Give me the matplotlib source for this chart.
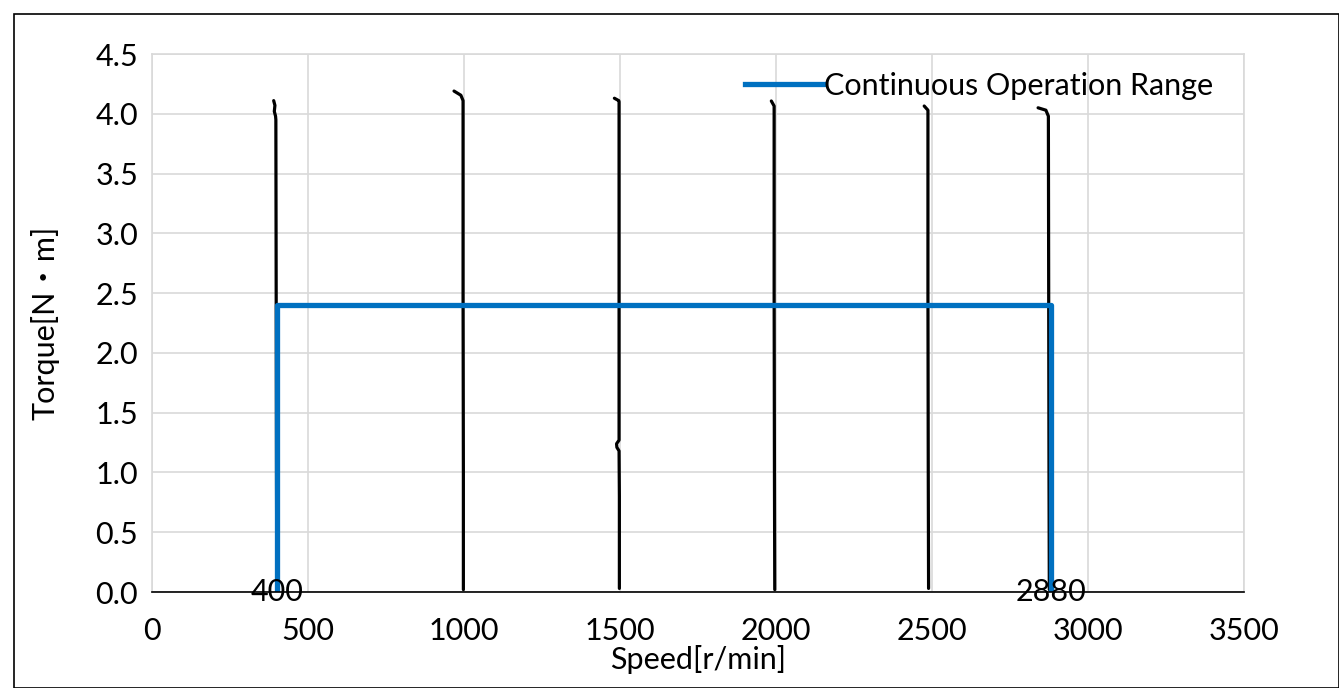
import numpy as np
import matplotlib
matplotlib.use('Agg')
import matplotlib.pyplot as plt
import matplotlib.patches as patches

plt.rcParams['font.family'] = ['Lato', 'Noto Sans CJK JP', 'DejaVu Sans']

# measured torque curves (speed r/min, torque N*m)
Speed400 = [400, 399, 398, 397, 396, 392, 394, 390]
Torque400 = [0.02, 1.0, 2.5, 3.95, 3.98, 4.02, 4.07, 4.11]

Speed1000 = [998, 998, 997, 997, 990, 968]
Torque1000 = [0.02, 1.0, 2.5, 4.11, 4.155, 4.19]

Speed1500 = [1498, 1498, 1497, 1490, 1489, 1497, 1497, 1496, 1482]
Torque1500 = [0.03, 0.8, 1.18, 1.21, 1.24, 1.27, 4.1, 4.11, 4.13]

Speed2000 = [1996, 1995, 1994, 1994, 1985]
Torque2000 = [0.02, 1.0, 2.5, 4.065, 4.107]

Speed2500 = [2489, 2488, 2487, 2487, 2475]
Torque2500 = [0.03, 1.0, 2.5, 4.03, 4.065]

Speed2880 = [2876, 2875, 2874, 2873, 2865, 2840]
Torque2880 = [0.02, 1.0, 2.5, 3.98, 4.03, 4.05]

# continuous operation range
RangeSpeed = [400, 400, 2880, 2880]
RangeTorque = [0, 2.4, 2.4, 0]

Curves = [(Speed400, Torque400), (Speed1000, Torque1000), (Speed1500, Torque1500),
          (Speed2000, Torque2000), (Speed2500, Torque2500), (Speed2880, Torque2880)]

FS = 22

fig = plt.figure(figsize=(13.39, 6.88), dpi=100)
ax = fig.add_axes([152/1339, 1-592/688, (1244-152)/1339, (592-54)/688])

for sp, tq in Curves:
    ax.plot(sp, tq, color='black', linewidth=2.3, solid_capstyle='round', zorder=2)

ax.plot(RangeSpeed, RangeTorque, color='#0070C0', linewidth=3.8, label='Continuous Operation Range', zorder=3)

for xv in [400, 2880]:
    ax.text(xv, 0, str(xv), ha='center', va='center', fontsize=FS, zorder=4)

ax.set_xlim(0, 3500)
ax.set_ylim(0, 4.5)
ax.set_xticks(np.arange(0, 3501, 500))
ax.set_yticks(np.arange(0, 4.51, 0.5))
ax.yaxis.set_major_formatter(matplotlib.ticker.FormatStrFormatter('%0.1f'))
ax.tick_params(axis='x', length=0, labelsize=FS, pad=18)
ax.tick_params(axis='y', length=0, labelsize=FS, pad=10)
ax.grid(color='#d9d9d9', linewidth=1.2)
ax.set_axisbelow(True)
for s in ['top', 'right', 'left']:
    ax.spines[s].set_color('#d9d9d9')
    ax.spines[s].set_linewidth(1.2)
ax.spines['bottom'].set_color('black')
ax.spines['bottom'].set_linewidth(1.2)
ax.spines['bottom'].set_zorder(5)

ax.set_xlabel('Speed[r/min]', fontsize=FS, labelpad=0)
ax.set_ylabel('Torque[N・m]', fontsize=FS, labelpad=26)

leg = ax.legend(loc='upper right', fontsize=FS, frameon=False, handlelength=2.6,
                handletextpad=0.0, borderaxespad=0.0, bbox_to_anchor=(0.983, 0.99))

fig.patches.append(patches.Rectangle((14/1339, 0), 1-14/1339, 1-14/688, transform=fig.transFigure,
                                     fill=False, edgecolor='black', linewidth=1.2))

fig.savefig('out.png', dpi=100)
